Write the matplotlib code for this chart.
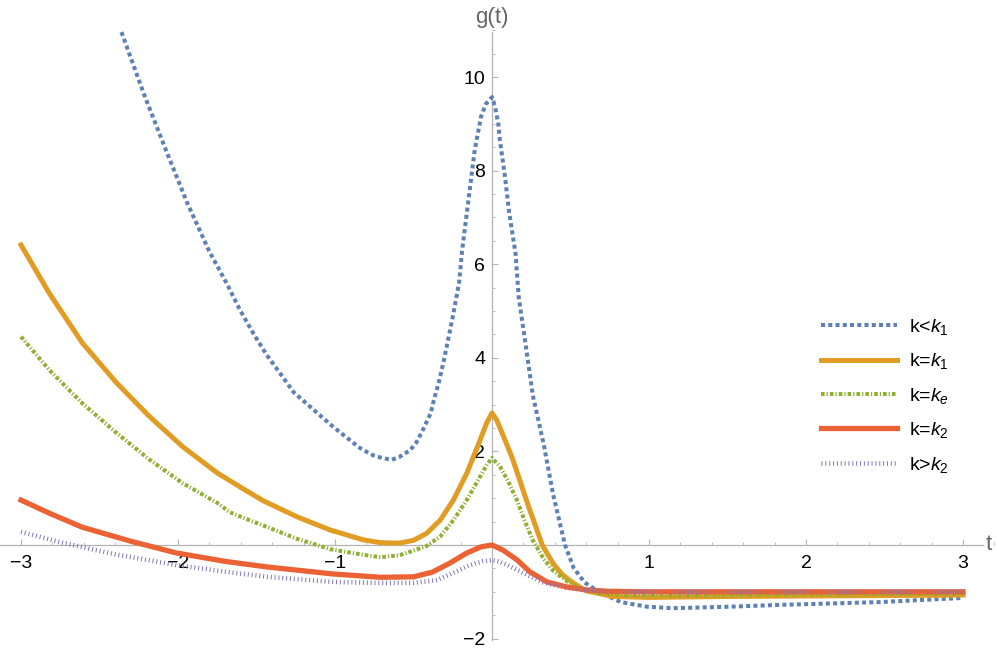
import matplotlib
matplotlib.use("Agg")
import matplotlib.pyplot as plt
from matplotlib.ticker import MultipleLocator, FixedLocator

plt.rcParams['font.family'] = ['Liberation Sans', 'DejaVu Sans']
plt.rcParams['mathtext.fontset'] = 'custom'
plt.rcParams['mathtext.rm'] = 'Liberation Sans'
plt.rcParams['mathtext.it'] = 'Liberation Sans:italic'

# ---- data ----
t_blue = [-2.36, -2.22, -2.07, -1.94, -1.80, -1.69, -1.605, -1.52, -1.435, -1.35, -1.265,
          -1.15, -1.01, -0.84, -0.76, -0.70, -0.64, -0.59, -0.52, -0.48, -0.44, -0.39,
          -0.37, -0.34, -0.31, -0.28, -0.25, -0.21, -0.19, -0.15, -0.11, -0.07, -0.04,
          0.0, 0.02, 0.04, 0.05, 0.08, 0.11, 0.15, 0.17, 0.21, 0.26, 0.33, 0.39, 0.465,
          0.52, 0.59, 0.67, 0.82, 0.99, 1.15, 1.50, 1.83, 2.47, 3.0]
g_blue = [10.96, 9.66, 8.38, 7.30, 6.27, 5.59, 5.02, 4.52, 4.06, 3.67, 3.27,
          2.93, 2.52, 2.07, 1.92, 1.86, 1.82, 1.88, 2.03, 2.20, 2.46, 2.82,
          3.10, 3.46, 3.89, 4.38, 4.87, 5.60, 6.30, 7.37, 8.44, 9.15, 9.42,
          9.57, 9.36, 9.00, 8.65, 7.94, 7.09, 6.23, 5.30, 4.38, 3.20, 2.14, 1.07, 0.0,
          -0.49, -0.80, -0.98, -1.22, -1.32, -1.35, -1.32, -1.28, -1.22, -1.13]

t_orange = [-3.0, -2.82, -2.61, -2.39, -2.18, -1.97, -1.75, -1.56, -1.46, -1.24, -1.03,
            -0.82, -0.71, -0.59, -0.50, -0.416, -0.33, -0.246, -0.161, -0.076, -0.035,
            0.0, 0.03, 0.07, 0.13, 0.18, 0.23, 0.28, 0.32, 0.39, 0.45, 0.52, 0.60, 0.77,
            1.0, 1.5, 2.0, 2.5, 3.0]
g_orange = [6.41, 5.38, 4.32, 3.46, 2.74, 2.10, 1.54, 1.15, 0.95, 0.60, 0.32,
            0.11, 0.05, 0.04, 0.10, 0.25, 0.53, 0.96, 1.53, 2.24, 2.60,
            2.82, 2.67, 2.35, 1.85, 1.35, 0.85, 0.38, 0.0, -0.40, -0.64, -0.82, -0.98,
            -1.10, -1.12, -1.10, -1.09, -1.08, -1.07]

t_green = [-3.0, -2.82, -2.61, -2.39, -2.18, -1.97, -1.75, -1.67, -1.56, -1.46, -1.24,
           -1.03, -0.82, -0.71, -0.59, -0.50, -0.416, -0.33, -0.246, -0.161, -0.076,
           -0.035, 0.0, 0.05, 0.10, 0.16, 0.21, 0.26, 0.33, 0.39, 0.48, 0.54, 0.67, 0.85,
           1.2, 2.0, 3.0]
g_green = [4.45, 3.74, 3.03, 2.39, 1.82, 1.32, 0.90, 0.70, 0.55, 0.42, 0.13,
           -0.09, -0.21, -0.26, -0.22, -0.12, -0.02, 0.18, 0.53, 0.96, 1.46,
           1.70, 1.86, 1.68, 1.38, 0.95, 0.50, 0.10, -0.30, -0.55, -0.78, -0.90, -1.03,
           -1.07, -1.08, -1.06, -1.04]

t_red = [-3.0, -2.82, -2.61, -2.30, -2.01, -1.70, -1.43, -1.01, -0.71, -0.50, -0.38,
         -0.27, -0.16, -0.07, 0.0, 0.07, 0.16, 0.24, 0.35, 0.48, 0.60, 0.75, 1.0, 2.0,
         3.0]
g_red = [0.96, 0.68, 0.38, 0.08, -0.17, -0.35, -0.47, -0.62, -0.69, -0.68, -0.58,
         -0.39, -0.17, -0.04, 0.0, -0.11, -0.32, -0.57, -0.79, -0.90, -0.96, -0.99,
         -1.00, -1.00, -1.00]

t_purple = [-3.0, -2.75, -2.40, -2.01, -1.70, -1.43, -1.01, -0.71, -0.50, -0.35, -0.25,
            -0.14, -0.06, 0.0, 0.05, 0.10, 0.20, 0.33, 0.48, 0.70, 1.0, 2.0, 3.0]
g_purple = [0.28, 0.06, -0.20, -0.43, -0.57, -0.68, -0.79, -0.81, -0.81, -0.75, -0.60,
            -0.43, -0.35, -0.32, -0.36, -0.43, -0.60, -0.81, -0.92, -0.99, -1.00, -1.00,
            -1.00]

labels = [r'k<$k_1$', r'k=$k_1$', r'k=$k_e$', r'k=$k_2$', r'k>$k_2$']
x_ticks = [-3, -2, -1, 1, 2, 3]
y_ticks = [-2, 2, 4, 6, 8, 10]

colors = ['#5E81B5', '#E19C24', '#8FB032', '#EB6235', '#8778B3']

W, H = 997, 651
fig = plt.figure(figsize=(W / 100, H / 100), dpi=100)
ax = fig.add_axes([0, 0, 1, 1])

# pixel mapping: x_px = 492 + 157 t ; y_px = 545 - 46.8 g
x0, sx = 492.0, 157.0
y0, sy = 545.0, 46.8
ax.set_xlim(-x0 / sx, (W - x0) / sx)
ax.set_ylim((y0 - H) / sy, y0 / sy)

ax.plot(t_blue, g_blue, color=colors[0], lw=2.9, dashes=(1.0, 0.8),
        solid_joinstyle='round', label=labels[0])
ax.plot(t_orange, g_orange, color=colors[1], lw=3.6, solid_joinstyle='round',
        label=labels[1])
ax.plot(t_green, g_green, color=colors[2], lw=2.9, dashes=(0.9, 0.5, 0.3, 0.5),
        label=labels[2])
ax.plot(t_red, g_red, color=colors[3], lw=3.8, solid_joinstyle='round', label=labels[3])
ax.plot(t_purple, g_purple, color=colors[4], lw=3.3, dashes=(0.22, 0.62),
        label=labels[4])

# axes through origin
axis_col = '#B4B4B4'
for s in ['top', 'right']:
    ax.spines[s].set_visible(False)
ax.spines['bottom'].set_position(('data', 0))
ax.spines['left'].set_position(('data', 0))
ax.spines['bottom'].set_bounds(-x0 / sx, (983 - x0) / sx)
ax.spines['left'].set_bounds(-2.03, 10.96)
for s in ['bottom', 'left']:
    ax.spines[s].set_color(axis_col)
    ax.spines[s].set_linewidth(0.9)
    ax.spines[s].set_zorder(0)

ax.xaxis.set_major_locator(FixedLocator(x_ticks))
ax.xaxis.set_minor_locator(MultipleLocator(0.2))
ax.yaxis.set_major_locator(FixedLocator(y_ticks))
ax.yaxis.set_minor_locator(MultipleLocator(0.5))
ax.set_xticklabels(['\u22123', '\u22122', '\u22121', '1', '2', '3'])
ax.set_yticklabels(['\u22122', '2', '4', '6', '8', '10'])
ax.tick_params(which='major', direction='in', length=4.5, width=0.8, color=axis_col,
               labelsize=14, labelcolor='black')
ax.tick_params(which='minor', direction='in', length=2.5, width=0.6, color=axis_col)
ax.tick_params(axis='x', which='major', pad=7)
ax.tick_params(axis='y', which='major', pad=5)

ax.text(492 / W, 1 - 17 / H, 'g(t)', transform=ax.transAxes, ha='center', va='center',
        fontsize=16, color='#666666')
ax.text(989 / W, 1 - 544 / H, 't', transform=ax.transAxes, ha='center', va='center',
        fontsize=16, color='#666666')

leg = ax.legend(loc='upper left', bbox_to_anchor=(821 / W, 1 - 317 / H), frameon=False,
                fontsize=14, handlelength=3.9, handletextpad=0.65, labelspacing=0.74,
                borderaxespad=0, borderpad=0)

fig.savefig('out.png', dpi=100)
